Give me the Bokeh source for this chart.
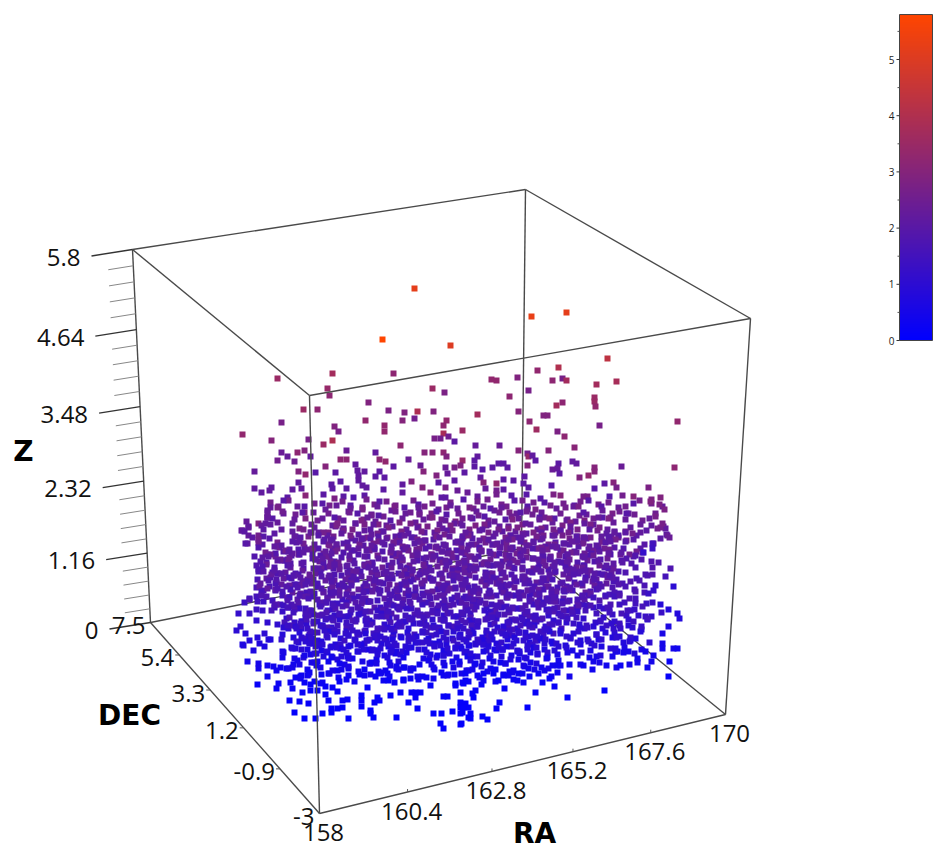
from itertools import cycle
import numpy as np
from bokeh.plotting import figure
from bokeh.models import ColumnDataSource, LinearColorMapper
from bokeh.transform import transform
from bokeh.core.properties import value
from bokeh.embed import file_html
from bokeh.resources import INLINE

# ---- chart values -------------------------------------------------------
RA_TICKS = [158, 160.4, 162.8, 165.2, 167.6, 170]
DEC_TICKS = [7.5, 5.4, 3.3, 1.2, -0.9, -3]
Z_TICKS = [0, 1.16, 2.32, 3.48, 4.64, 5.8]
RA_LABELS = ["158", "160.4", "162.8", "165.2", "167.6", "170"]
DEC_LABELS = ["7.5", "5.4", "3.3", "1.2", "-0.9", "-3"]
Z_LABELS = ["0", "1.16", "2.32", "3.48", "4.64", "5.8"]
CB_TICKS = [0, 1, 2, 3, 4, 5]

# sparse upper points, read as projected (x, y) plus Z from the colour
TOP_X = [414,382,450,332,393,277,327,329,432,444,368,303,317,388,404,417,433,414,402,365,281,446,443,334,384,384,338,462,242,443,434,440,448,271,308,454,323,332,400,346,281,297,304,287,310,277,294,424,432,443,446,375,340,346,379,385,408,462,355,325,420,393,254,298,305,315,335,357,364,358,379,375,384,423,436,445,447,454,460,464,454,438,445,411,402,402,422,430,457,467,383,358,362,366,331,340,346,332,254,261,271,269,292,298,301,305,323,287,334,343,364,353,441,445,
531,566,607,558,537,491,496,517,552,562,566,596,616,528,509,594,594,595,562,556,518,477,543,547,529,677,599,536,557,564,499,475,574,548,518,527,528,532,535,477,474,572,576,558,552,557,559,527,474,482,492,498,503,507,594,594,588,621,674,579,524,503,513,480,483,496,604,613,616,648,551,523,528,594,503,485,477,496,496,511,526,553,560,583,587,609,622,633,651,660,540,
242,248,248,247,267,267,258,292]
TOP_Y = [288,339,345,373,373,378,388,395,388,392,402,409,409,410,412,411,411,418,420,420,422,420,425,426,425,431,431,430,434,433,438,438,436,440,439,441,444,440,445,450,452,452,450,456,456,460,461,452,452,452,456,452,459,459,459,461,459,460,464,466,465,466,471,471,474,472,472,470,471,475,471,476,477,471,475,467,473,467,465,472,480,482,487,481,484,492,487,492,490,492,489,480,485,487,484,481,488,488,488,492,487,490,489,482,488,495,494,497,498,496,495,497,497,497,
316,312,358,367,370,379,380,377,380,378,380,384,381,390,396,397,401,406,402,405,411,414,415,415,421,421,425,429,431,436,445,445,447,450,450,453,456,455,460,456,460,461,463,463,469,468,473,465,466,469,467,463,463,467,467,471,475,466,467,477,476,479,480,477,482,483,483,482,487,487,485,483,487,488,489,488,496,490,494,495,494,494,495,496,496,496,495,496,499,497,498,
530,527,535,543,512,517,523,523]
TOP_Z = [5.2,5.8,5.0,3.7,3.2,3.5,3.4,3.2,3.5,2.8,2.9,3.5,3.2,2.8,2.9,3.9,2.9,2.6,3.0,3.3,2.7,3.3,3.2,2.9,3.3,3.3,2.7,3.5,3.3,3.8,2.7,2.6,2.5,3.0,2.7,2.1,3.5,3.9,3.2,2.4,2.4,3.2,2.9,2.3,2.2,2.6,2.5,3.0,3.0,3.2,2.9,2.2,3.2,3.2,3.2,3.3,2.4,3.4,2.2,3.0,2.4,2.1,2.3,2.9,3.3,2.0,2.1,2.2,2.2,2.2,2.1,2.1,2.1,3.0,2.9,2.4,2.3,2.7,2.9,2.1,2.1,2.1,2.7,2.9,2.2,2.2,2.9,2.9,2.4,2.4,2.1,2.2,2.2,2.2,2.1,2.1,2.1,2.1,2.2,2.2,2.2,2.2,2.2,2.2,2.2,3.1,2.1,2.1,2.8,2.1,2.1,1.9,2.1,2.1,
5.3,5.2,4.3,4.0,3.3,3.3,3.3,2.9,3.2,2.7,3.7,3.7,3.8,2.7,3.2,3.5,3.5,3.3,3.2,3.7,3.0,3.7,2.9,2.9,3.2,3.3,2.7,3.6,2.8,3.2,2.4,2.3,3.1,3.0,3.0,2.6,3.4,2.2,2.1,2.2,2.1,2.2,2.2,2.1,2.4,2.3,2.1,3.0,2.1,2.0,2.1,2.1,2.1,2.1,3.0,3.0,3.3,2.4,3.2,2.9,2.1,2.1,2.1,2.2,3.0,3.3,2.1,3.0,2.7,2.8,2.0,2.1,2.1,2.0,2.1,2.3,2.3,2.6,2.6,2.0,2.0,2.8,3.0,2.7,2.7,2.0,2.6,3.0,2.8,2.9,2.0,
2.5,2.4,2.3,2.2,2.4,2.3,2.9,2.2]

# dense band: rows of projected x read per y, with the row's Z from the colour
ROW_Y = [503,503,509,509,515,515,521,521,527,527,533,533,539,539,545,545,551,551,557,557,563,563,569,569,575,575,581,581,587,587,593,593,599,599,605,605,611,611,617,617,623,623,629,629,635,635,641,641,647,647,653,653,659,659,665,671,677,665,671,677,683,
         536,542,548,554,560,566,572,578,584,590,596,602,608,614,620,626,632,638,644,650]
ROW_Z = [2.6,2.0,2.3,2.7,2.5,2.0,2.3,2.8,2.2,2.7,2.1,2.6,2.0,2.6,2.0,2.5,1.9,2.5,1.9,2.4,1.9,2.4,1.8,2.3,1.8,2.2,1.7,2.2,1.7,2.2,1.6,2.1,1.5,2.0,1.4,1.9,1.3,1.8,1.2,1.7,1.1,1.6,1.0,1.5,0.9,1.4,0.8,1.2,0.7,1.0,0.6,0.9,0.5,0.8,0.4,0.3,0.3,0.6,0.5,0.4,0.2,
         2.2,2.1,2.2,2.1,2.1,2.0,2.0,1.9,1.9,1.8,1.8,1.7,1.6,1.5,1.4,1.3,1.2,1.1,1.0,0.9]
ROW_X = [
[270,276,290,311,330,341,358,366,372,388,394,410,425,432,444,452,470,478,486,497,506,520,535,549,560,566,580,596,610,622,640,650],
[284,303,320,350,381,401,418,461,491,513,528,543,572,588,603,630],
[265,272,283,296,314,322,336,346,352,370,378,391,402,416,421,438,449,458,473,483,492,503,515,528,541,553,571,588,602,617,629,659],
[277,305,360,396,430,466,509,535,579,610],
[266,282,292,318,326,340,349,362,368,384,397,408,419,428,441,455,463,476,490,499,510,523,533,546,558,567,578,593,607,620,632,644,655],
[274,300,334,356,375,391,434,448,470,484,504,517,540,552,585,600,626],
[246,258,268,275,296,310,322,333,344,352,366,375,388,402,412,424,437,447,459,470,484,495,505,517,530,541,552,563,576,588,600,612,625,638,650,660],
[303,338,360,380,396,418,430,453,476,511,524,546,570,582,606],
[240,250,263,270,278,293,313,320,330,343,356,361,372,380,394,404,417,431,443,453,464,477,488,500,512,524,536,547,558,570,581,594,606,616,628,640,652,662],
[300,325,336,350,366,387,399,411,424,437,448,471,483,506,518,530,541,553,564,576,588,600,622],
[242,252,265,273,296,308,327,340,350,360,370,384,392,406,414,426,434,448,459,470,480,492,504,515,527,538,550,560,572,582,590,603,611,623,635,648,660,667],
[258,302,320,334,345,365,377,399,420,441,453,465,486,498,510,521,533,544,555,566,577,597,617,629],
[247,262,270,290,300,315,324,338,346,356,368,378,390,402,410,420,431,443,452,462,474,486,498,508,520,530,542,554,564,574,586,598,608,620,632,645],
[255,277,306,330,351,362,373,384,396,415,426,437,457,468,480,492,503,514,525,536,548,559,569,580,592,603,614,626],
[263,275,288,296,306,320,332,344,352,362,374,386,396,408,418,428,438,450,458,468,480,490,502,512,522,534,546,558,568,578,590,602,614,626,638,652],
[257,281,301,313,326,338,357,368,380,391,402,413,423,433,444,463,474,485,496,507,517,528,540,552,563,573,584,596,608],
[258,268,280,290,300,310,318,330,340,350,360,372,382,392,404,414,424,434,446,456,466,476,488,498,510,520,532,544,554,566,576,586,598,610,620,632,644],
[263,274,285,295,314,324,335,345,366,377,387,398,409,419,429,440,451,461,471,482,493,504,515,526,538,549,560,571,581,592,604,626,638],
[256,264,276,286,296,312,322,332,342,352,364,372,394,404,414,424,434,446,456,466,476,486,498,508,520,530,544,556,566,576,588,600,612,624,636,650],
[270,281,291,317,327,337,347,399,409,419,429,440,451,461,471,481,492,503,514,525,537,550,561,571,582,594,606,618],
[255,261,272,282,292,312,322,334,344,364,374,396,406,416,426,438,448,458,468,480,490,500,512,524,536,548,560,570,582,594,606,618,630,642],
[267,277,287,317,328,339,369,379,401,411,421,432,443,453,463,474,485,495,506,518,530,542,554,565,576,588,600],
[256,262,274,284,294,304,314,324,336,346,356,366,376,386,398,408,418,428,440,450,460,470,482,492,502,514,526,538,550,562,574,584,596,608,620,632,644],
[279,289,299,309,319,330,341,351,361,371,381,392,403,413,423,434,445,455,465,476,487,497,508,520,532,544,556,568,579,590,602,614],
[258,268,278,290,300,310,320,330,342,352,362,372,382,392,404,414,424,434,446,456,466,476,488,498,508,520,532,544,556,568,580,590,602,614,626,638],
[263,273,284,295,305,315,325,336,347,357,367,377,387,398,409,419,429,440,451,461,471,482,493,503,514,526,538,550,562,574,585,596,608],
[256,266,276,286,296,306,316,328,338,348,358,368,378,390,400,410,420,432,442,452,462,474,484,494,504,516,528,540,552,564,576,586,598,610,622,634,646],
[261,281,291,301,311,322,333,343,353,363,373,384,395,405,415,426,437,447,457,468,479,489,499,510,522,534,546,558,570,581,592,604],
[254,264,274,284,294,306,318,328,340,350,360,370,382,392,402,414,424,434,446,456,466,478,488,498,510,520,532,544,556,568,578,590,600,612,624,636],
[259,269,279,289,300,312,323,334,345,355,365,376,387,397,408,419,429,440,451,461,472,483,493,504,515,526,538,550,562,573,584,595,606],
[255,262,272,282,292,304,314,326,336,346,358,368,378,390,400,410,422,432,442,454,464,474,486,496,506,518,530,540,552,564,574,586,596,608,620,632,644],
[277,287,298,309,320,331,341,352,363,373,384,395,405,416,427,437,448,459,469,480,491,501,512,524,535,546,558,569,580,591,602],
[246,256,272,282,290,300,312,322,332,344,354,364,376,386,396,408,418,428,440,450,460,472,482,492,504,514,526,536,548,558,570,580,592,602,614,626,636],
[277,295,306,317,327,338,349,359,370,381,391,402,413,423,434,445,455,466,477,487,498,509,520,531,542,553,564,575,586],
[244,253,262,275,285,295,305,316,326,338,348,358,370,380,390,402,412,424,434,444,456,466,476,488,498,508,520,530,542,552,564,574,586,596,608,620,632,644,654],
[290,300,310,321,332,343,353,364,375,385,396,407,418,429,439,450,461,471,482,493,503,514,525,536,547,558,569,580],
[248,262,280,290,300,310,320,332,342,352,364,374,386,396,406,418,428,438,450,460,470,482,492,502,514,524,534,546,556,568,578,590,602,612,624,636,646,658],
[295,305,315,326,337,347,358,369,379,391,401,412,423,433,444,455,465,476,487,497,508,519,529,540,551,562,573],
[240,284,294,304,314,326,336,346,358,368,378,390,400,410,422,432,442,454,464,474,486,496,506,518,528,538,550,560,572,582,592,604,616,626,638,650],
[289,299,309,320,331,341,352,363,373,384,395,405,416,427,437,448,459,469,480,491,501,512,523,533,544,555,566],
[238,258,266,278,288,298,308,318,330,340,350,362,372,382,394,404,414,426,436,446,458,468,478,490,500,510,522,532,544,554,566,576,586,598,610,620,632,644],
[283,293,303,313,324,335,345,356,367,377,388,399,409,420,431,441,452,463,473,484,495,505,516,527,538,549,560],
[238,264,281,292,302,312,324,334,344,356,366,376,388,398,408,420,430,440,452,462,472,484,494,504,516,526,536,548,558,570,580,592,604,614,626,638],
[297,307,318,329,339,350,361,371,382,393,403,414,425,435,446,457,467,478,489,499,510,521,531,542,553],
[246,256,268,284,296,306,318,328,340,350,362,372,384,394,406,416,428,438,450,460,472,482,494,504,516,526,538,548,560,572,584,594,606,618,630,642],
[301,312,323,334,345,356,367,378,389,400,411,422,433,444,455,466,477,488,499,510,521,532,543],
[243,250,258,268,290,300,312,322,334,346,358,368,380,392,402,414,426,436,448,460,470,482,494,504,516,528,540,552,564,578,588,600,612,624,634],
[295,306,317,328,340,352,363,374,386,397,408,420,431,442,454,465,476,488,499,510,522,534,546],
[244,252,262,282,292,304,314,326,338,350,362,374,386,398,410,422,434,446,458,470,482,494,506,518,530,542,554,566,578,590,602,612,626,640],
[298,309,320,332,344,356,368,380,392,404,416,428,440,452,464,476,488,500,512,524,536,548],
[284,296,308,320,332,344,358,370,382,394,406,420,432,444,458,470,482,494,508,520,532,544,556,572,586,598,618],
[302,314,326,338,350,364,376,388,400,426,438,450,464,476,488,502,514,526,538],
[282,294,306,318,330,342,352,366,378,390,402,426,438,452,464,476,490,504,516,530,544,560,578,592,610,630],
[312,324,336,348,372,384,396,444,458,470,484,498,510,524,537],
[282,292,304,314,328,340,350,370,382,394,404,420,434,446,458,472,488,500,514,526,540,566,590,606],
[286,298,310,318,336,350,364,376,388,400,412,424,440,454,466,478,492,508,520],
[292,302,316,328,344,358,372,384,396,410,424,442,470,490,514],
[287,299,309,321,334,345,361,376,388,399,412,428,441,452,466,479,494,507,520,533,548,578,600,618],
[293,305,326,343,357,370,382,394,407,419,432,447,461,473,485,500,514,527,544,570],
[298,310,322,337,351,365,378,391,403,417,430,449,463,477,497,508,521,548],
[304,322,338,368,386,405,430,452,480,505,540],
[293,311,327,343,359,371,386,403,419,436,451,463,479,495,507,524,539,556,569,584,601,613],
[283,297,314,329,347,363,381,393,412,425,442,456,472,487,502,519,533,549,563,578,595,612],
[272,292,308,324,338,355,371,389,405,417,435,449,464,481,494,510,527,541,558,573,589,606],
[269,285,302,320,333,349,367,385,398,416,431,444,461,475,491,506,522,536,552,567,583,600,618],
[262,279,299,316,331,346,361,378,394,411,427,442,457,472,487,503,518,534,551,566,581,598,615],
[271,288,305,318,335,352,369,383,399,414,431,447,462,477,493,508,524,540,555,571,586,603,621],
[265,282,297,312,329,345,361,377,392,409,425,441,456,471,488,504,519,535,549,564,580,596,613],
[275,291,307,323,339,354,371,387,403,419,435,450,466,482,497,512,528,544,559,574,591,608,628],
[269,286,303,318,333,350,365,381,396,413,429,445,461,477,491,507,522,538,553,569,585,602,618],
[259,279,296,311,327,344,360,376,391,407,424,439,455,470,486,502,517,533,548,563,579,596,614,634],
[266,284,301,315,332,347,363,379,395,411,427,443,458,474,490,505,521,537,552,568,583,599,616],
[251,273,292,308,323,340,356,372,388,403,419,435,451,466,481,497,513,529,544,560,575,592,609,630],
[268,288,303,319,335,351,367,383,399,415,431,446,462,478,493,509,525,541,556,572,587,604,622,640],
[293,309,325,341,357,373,389,405,421,436,452,468,484,499,515,531,547,562,577,593,610,627,645],
[299,315,331,347,363,379,395,411,427,443,458,474,490,505,521,537,552,568,583,598,616,632],
[288,304,320,336,352,368,384,400,416,432,447,463,479,494,510,526,542,557,573,589,606,621,638],
[294,310,326,342,358,374,390,406,422,438,454,469,485,501,516,532,548,563,579,595,612,628],
[283,300,316,332,348,364,380,396,412,428,444,459,475,491,507,522,538,554,570,585,601,618,648],
[289,306,322,338,354,370,386,402,418,434,449,465,481,497,513,528,544,560,576,592,609,626],
[295,312,328,344,360,376,392,408,424,440,456,472,487,503,519,535,551,567,583,599,616,634],
]
# how far each reading of a dense row lies from the row's nominal (x, y): digit minus 4
ROW_DY = [
"3714628052617483920571364825","1746285091736","5281740639158274036152847319","27418","6039271845013682749150362847","7162490375816","4805271936048152736084917253","16375904827153","7301684925071836495027138064","5926148037261549","2804736195027483619507284361","60371849251730648","8136204975318026497135802647","47190382645170392","3581607294831605792483160759","16284739015826473","0748261953704826195370482619","59371640285931746","3906152847390615284739061528","17483960251748396","6281403975628140397562814039","50392748165039274","4170836295417083629541708362","82593146078259314","0627381945062738194506273819","73148269507314826","2950746183295074618329507461","61840372596184037","4708193625470819362547081936","35192084763519208","7216054938721605493872160549","08473615920847361","3659201784365920178436592017","94172058639417205","1806457392180645739218064573","52937410685293741","6340178295634017829563401782","27851904362785190","0594862317059486231705948623","48216075934821607","7135924680713592468071359246","36048172593604817","5821370469582137046958213704","19740268351974026","2683159074268315907426831590","70419382657041938","8362051479836205147983620514","45907263184590726","1738460952173846095217384609","60249175386024917","3951872064395187206439518720","84276013598427601","2506193847250619384725061938","71438260957143826","6384027195638402719563840271","1957382460195738246019573824","4280613795428061379542806137","7316950248731695024873169502","0862475139086247513908624751","5194820376519482037651948203","3728106459372810645937281064",
"4081726395","7361904852","2957041638","6128350974","1473890265","8306215947","3590748162","5172936480","0648153297","9215706384","4837026159","1760489325","6392157048","2084961573","7516308294","3649827015","0925471836","5380162947","8147093625","2703584169",
]
ROW_DX = [
"2405136240351","1342052413","4023152403125","2140352","3251402351042","0423514","2514032415320","4130524","3042513042153","1524034","4203152430215","2351042","0314252031425","5240132","1432052143205","3042514","2153042153042","4325012","0413520413524","2504134","3142053142053","1530421530421","4205314205312","0352410352413","2413052413054","5031425031420","3524013524012","1403251403254","4130521430523","2045312045314","3152042315204","0241530241532","5320143520143","1405231405234","2531042531040","4012354012351","3240153240152","1352041352043","0423510423514","2514302514305","4031250431251","3152403152402","0245130245131","5413025413023","1320541320544","4052134052130","2134502134503","3501243501245","0342150342154","5210435210432","1043251043250","3425013425014","2501342501341","4132054132052","0354210354212","2415302415303","5102435102430","3241053241054","1450321450322","4023514023511","2531402531403",
"3150422","0425313","4213052","1534021","2041535","5302141","0153242","3420515","1245032","4031525","2504311","0312544","5143020","2430151","3021545","1543202","4205133","0314252","5120343","2451031",
]

# sparse lower points (all close to Z = 0), read as projected (x, y)
LOW_X = [247,258,258,267,273,276,267,257,278,276,290,292,302,289,299,308,294,304,315,322,310,310,317,320,325,328,332,337,331,331,337,342,347,342,348,361,361,361,377,374,379,370,370,373,396,390,400,411,415,420,415,408,417,433,441,440,443,452,460,460,465,468,460,460,468,443,447,455,460,463,
527,567,604,535,554,549,538,529,517,523,499,496,482,487,475,473,472,470,470,463,462,461,483,483,498,503,465,465,557,552,557,560,668,669,620,583,647,637,637,628,623,645,653,651,673,677,662,662,662,668,677,679,668,660,673,655,653,648,665,670,652,647,652,658,667,669,660,657,662,655,664,659,650,643,652,652]
LOW_Y = [661,663,668,665,666,670,676,684,683,688,682,688,692,700,701,703,712,718,718,713,684,690,690,683,694,700,687,691,708,712,708,700,699,707,718,695,700,706,697,702,700,710,713,717,717,695,692,692,692,692,697,702,708,713,713,723,728,711,702,707,703,707,713,724,717,696,696,685,692,683,
707,697,690,692,686,678,673,676,680,682,702,708,716,719,690,697,693,713,718,707,712,723,673,680,680,675,673,680,665,665,672,665,676,661,665,665,667,658,662,651,652,651,655,661,648,648,643,648,633,626,613,618,609,604,586,585,590,593,576,568,567,575,574,562,535,537,527,528,523,516,509,504,501,552,543,548]
LOW_Z = [0.5,0.5,0.5,0.4,0.4,0.4,0.4,0.2,0.3,0.3,0.3,0.3,0.2,0.2,0.2,0.2,0.1,0.1,0.1,0.1,0.2,0.2,0.2,0.3,0.2,0.2,0.2,0.2,0.1,0.1,0.1,0.2,0.2,0.1,0.1,0.2,0.2,0.1,0.2,0.2,0.2,0.1,0.1,0.1,0.1,0.2,0.2,0.2,0.2,0.2,0.2,0.1,0.1,0.1,0.1,0.1,0.1,0.1,0.1,0.1,0.1,0.1,0.1,0.1,0.1,0.2,0.2,0.2,0.2,0.2,
0.1,0.1,0.1,0.2,0.2,0.2,0.3,0.3,0.3,0.3,0.1,0.1,0.1,0.1,0.2,0.1,0.1,0.1,0.1,0.1,0.1,0.1,0.3,0.3,0.2,0.3,0.3,0.2,0.4,0.4,0.3,0.4,0.2,0.2,0.3,0.4,0.4,0.5,0.5,0.5,0.5,0.5,0.5,0.5,0.5,0.4,0.5,0.5,0.6,0.7,0.8,0.8,0.8,0.9,1.0,1.2,1.2,1.3,1.6,1.8,1.9,1.8,1.9,1.9,2.4,2.4,2.6,2.6,2.7,2.7,2.8,2.8,2.9,1.2,1.5,1.4]

# ---- projection of the cube onto the page --------------------------------
RA_LIM, DEC_LIM, Z_LIM = (158, 170), (7.5, -3), (0, 5.8)
K_RA, K_DEC, K_Z = 1.108, 0.82, 0.915
CORNERS = {  # (ra index, dec index, z index) -> page position
    (0, 0, 0): (150, 622), (1, 0, 0): (521, 548), (0, 1, 0): (319, 813), (1, 1, 0): (725, 714),
    (0, 0, 1): (132, 249), (1, 0, 1): (525, 189), (0, 1, 1): (309, 395), (1, 1, 1): (750, 318),
}

def frac(v, lim, k):
    t = (v - lim[0]) / (lim[1] - lim[0])
    return k * t / ((1 - t) + k * t)

def proj(ra, dec, z):
    a, b, c = frac(ra, RA_LIM, K_RA), frac(dec, DEC_LIM, K_DEC), frac(z, Z_LIM, K_Z)
    out = [0.0, 0.0]
    for (i, j, m), xy in CORNERS.items():
        w = (a if i else 1 - a) * (b if j else 1 - b) * (c if m else 1 - c)
        out[0] += w * xy[0]
        out[1] += w * xy[1]
    return out

def edge(p0, p1):
    a, b = proj(*p0), proj(*p1)
    return a[0], a[1], b[0], b[1]

R0, R1 = RA_LIM
D0, D1 = DEC_LIM
Z0, Z1 = Z_LIM
BACK = [((R0,D0,Z0),(R0,D0,Z1)), ((R1,D0,Z0),(R1,D0,Z1)), ((R0,D0,Z0),(R1,D0,Z0)), ((R1,D0,Z0),(R1,D1,Z0)),
        ((R0,D0,Z1),(R1,D0,Z1)), ((R1,D0,Z1),(R1,D1,Z1)), ((R0,D0,Z1),(R0,D1,Z1))]
FRONT = [((R0,D1,Z0),(R0,D1,Z1)), ((R1,D1,Z0),(R1,D1,Z1)), ((R0,D0,Z0),(R0,D1,Z0)), ((R0,D1,Z0),(R1,D1,Z0)),
         ((R0,D1,Z1),(R1,D1,Z1))]

p = figure(width=933, height=858, x_range=(0, 933), y_range=(858, 0), tools="",
           output_backend="svg", toolbar_location=None, min_border=0, outline_line_color=None)
p.axis.visible = False
p.grid.visible = False

PALETTE = ["#%02x%02x%02x" % (i, round(69 * i / 255), 255 - i) for i in range(256)]
mapper = LinearColorMapper(palette=PALETTE, low=0, high=5.8)

def draw_edges(edges, width, color):
    segs = [edge(*e) for e in edges]
    p.segment(x0=[s[0] for s in segs], y0=[s[1] for s in segs], x1=[s[2] for s in segs], y1=[s[3] for s in segs],
              line_color=color, line_width=width)

draw_edges(BACK, 1.4, "#4a4a4a")

# points
xs, ys, zs = list(TOP_X), list(TOP_Y), list(TOP_Z)
for y, z, row, dy, dx in zip(ROW_Y, ROW_Z, ROW_X, ROW_DY, ROW_DX):
    for x, a, b in zip(row, cycle(dy), cycle(dx)):
        xs.append(x + int(b) - 2)
        ys.append(y + int(a) - 4)
        zs.append(z)
xs += LOW_X
ys += LOW_Y
zs += LOW_Z
src = ColumnDataSource(dict(x=xs, y=ys, z=zs))
p.scatter("x", "y", source=src, marker="square", size=6, line_color=None, fill_color=transform("z", mapper))

draw_edges(FRONT, 1.4, "#4a4a4a")

# Z axis ticks and labels
tick_col = "#555555"
zt = [proj(R0, D0, v) for v in Z_TICKS]
p.segment(x0=[a[0] for a in zt], y0=[a[1] for a in zt], x1=[a[0] - 41 for a in zt], y1=[a[1] + 6.5 for a in zt],
          line_color="#333333", line_width=1.3)
Z_MINOR = [v for lo, hi in zip(Z_TICKS[:-1], Z_TICKS[1:]) for v in (lo + (hi - lo) * .2, lo + (hi - lo) * .4, lo + (hi - lo) * .6, lo + (hi - lo) * .8)]
zm = [proj(R0, D0, v) for v in Z_MINOR]
p.segment(x0=[a[0] for a in zm], y0=[a[1] for a in zm], x1=[a[0] - 25 for a in zm], y1=[a[1] + 4 for a in zm],
          line_color="#888888", line_width=1)
FONT = value("Open Sans")
p.text(x=[a[0] - 52 for a in zt], y=[a[1] + 7.5 for a in zt], text=Z_LABELS, text_font=FONT, text_font_size="24px",
       text_color="#111111", text_align="right", text_baseline="middle")

# DEC axis
dt = [proj(R0, v, Z0) for v in DEC_TICKS]
p.segment(x0=[a[0] for a in dt[1:-1]], y0=[a[1] for a in dt[1:-1]], x1=[a[0] - 4 for a in dt[1:-1]], y1=[a[1] for a in dt[1:-1]],
          line_color=tick_col, line_width=1)
p.text(x=[a[0] - 5 for a in dt], y=[a[1] + 3 for a in dt], text=DEC_LABELS, text_font=FONT, text_font_size="24px",
       text_color="#111111", text_align="right", text_baseline="middle")

# RA axis
rt = [proj(v, D1, Z0) for v in RA_TICKS]
p.segment(x0=[a[0] for a in rt[1:-1]], y0=[a[1] for a in rt[1:-1]], x1=[a[0] for a in rt[1:-1]], y1=[a[1] - 3 for a in rt[1:-1]],
          line_color=tick_col, line_width=1)
p.text(x=[a[0] + 4 for a in rt], y=[a[1] + 19 for a in rt], text=RA_LABELS, text_font=FONT, text_font_size="24px",
       text_color="#111111", text_align="center", text_baseline="middle")

# axis titles
BOLD = value("DejaVu Sans")
p.text(x=[23, 129, 534], y=[451, 715, 833], text=["Z", "DEC", "RA"], text_font=BOLD, text_font_style="bold",
       text_font_size="28px", text_color="#000000", text_align="center", text_baseline="middle")

# colour bar
CB_BOTTOM, CB_UNIT, CB_LEFT, CB_RIGHT = 340, 56.2, 899, 932
CB_Z = np.array([[(i + 0.5) * 5.8 / 256] for i in range(255, -1, -1)])
CB_HEIGHT = 5.8 * CB_UNIT
p.image(image=[CB_Z], x=CB_LEFT, y=CB_BOTTOM - CB_HEIGHT, dw=CB_RIGHT - CB_LEFT, dh=CB_HEIGHT, color_mapper=mapper)
p.quad(left=[CB_LEFT], right=[CB_RIGHT], top=[CB_BOTTOM - CB_HEIGHT], bottom=[CB_BOTTOM], fill_color=None,
       line_color="#444444", line_width=1)
cy = [CB_BOTTOM - v * CB_UNIT for v in CB_TICKS]
p.segment(x0=[CB_LEFT - 3] * 6, y0=cy, x1=[CB_LEFT] * 6, y1=cy, line_color="#333333", line_width=1)
CB_MINOR = [0.5, 1.5, 2.5, 3.5, 4.5, 5.5]
cm = [CB_BOTTOM - v * CB_UNIT for v in CB_MINOR]
p.segment(x0=[CB_LEFT - 2] * 6, y0=cm, x1=[CB_LEFT] * 6, y1=cm, line_color="#555555", line_width=1)
p.text(x=[CB_LEFT - 5] * 6, y=cy, text=[str(v) for v in CB_TICKS], text_font=FONT, text_font_size="10px",
       text_color="#222222", text_align="right", text_baseline="middle")

open("out.html", "w").write(file_html(p, INLINE))
